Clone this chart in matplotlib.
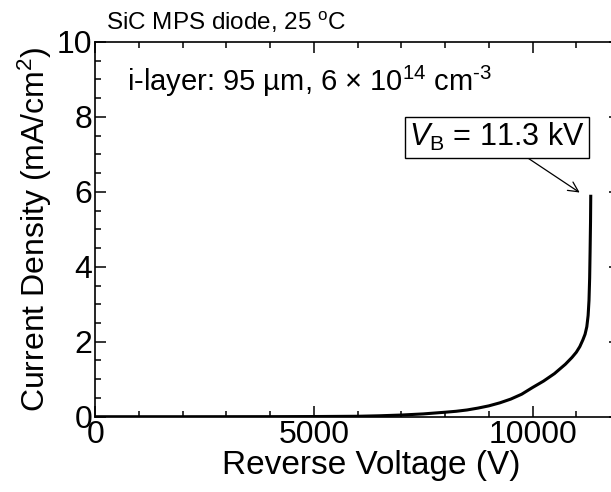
import matplotlib
matplotlib.use("Agg")
import matplotlib.pyplot as plt
from matplotlib.ticker import MultipleLocator

plt.rcParams['font.family'] = ['Liberation Sans', 'DejaVu Sans']
plt.rcParams['mathtext.fontset'] = 'custom'
plt.rcParams['mathtext.rm'] = 'Liberation Sans'
plt.rcParams['mathtext.it'] = 'Liberation Sans:italic'

# reverse I-V curve
voltage = [0, 2000, 4000, 5000, 6000, 6500, 7000, 7500, 8000, 8250, 8500,
           8750, 9000, 9250, 9500, 9750, 10000, 10250, 10500, 10750, 10900,
           11000, 11080, 11150, 11200, 11240, 11270, 11290, 11305, 11315,
           11325, 11330]
current = [0, 0, 0.002, 0.005, 0.012, 0.025, 0.045, 0.075, 0.12, 0.145,
           0.18, 0.23, 0.29, 0.37, 0.47, 0.6, 0.78, 0.95, 1.15, 1.4, 1.58,
           1.72, 1.87, 2.05, 2.2, 2.4, 2.7, 3.1, 3.7, 4.4, 5.2, 5.88]

xticks = [0, 5000, 10000]
yticks = [0, 2, 4, 6, 8, 10]

fig = plt.figure(figsize=(6.11, 4.92), dpi=100)
# right spine sits just outside the picture, as in the original crop
ax = fig.add_axes([0.156, 0.153, 0.8588, 0.762])

ax.plot(voltage, current, color='black', lw=2.2)

ax.set_xlim(0, 12000)
ax.set_ylim(0, 10)
ax.set_xticks(xticks)
ax.set_yticks(yticks)
ax.xaxis.set_minor_locator(MultipleLocator(1000))
ax.yaxis.set_minor_locator(MultipleLocator(0.5))
ax.tick_params(which='both', direction='in', top=True, right=True, width=1.1,
               labelsize=23, pad=2)
ax.tick_params(which='major', length=8)
ax.tick_params(which='minor', length=4)
for s in ax.spines.values():
    s.set_linewidth(1.2)

ax.set_xlabel('Reverse Voltage (V)', fontsize=24, labelpad=0, x=0.525)
ax.set_ylabel('Current Density (mA/cm$^2$)', fontsize=23, labelpad=2)

fig.text(0.173, 0.955, r'SiC MPS diode, 25 $^\mathrm{o}$C', fontsize=17.5,
         va='center', ha='left')
ax.text(0.06, 0.895, 'i-layer: 95 µm, 6 × 10$^{14}$ cm$^{\u2010 3}$',
        transform=ax.transAxes, fontsize=21, va='center', ha='left')

ax.annotate(r'$V_\mathrm{B}$ = 11.3 kV', xy=(11077, 5.98), xytext=(9184, 7.45),
            fontsize=22, ha='center', va='center',
            bbox=dict(boxstyle='square,pad=0.15', fc='white', ec='black', lw=1.0),
            arrowprops=dict(arrowstyle='->', color='black', lw=0.9,
                            mutation_scale=18, shrinkA=0, shrinkB=0))

fig.savefig('out.png', dpi=100)
